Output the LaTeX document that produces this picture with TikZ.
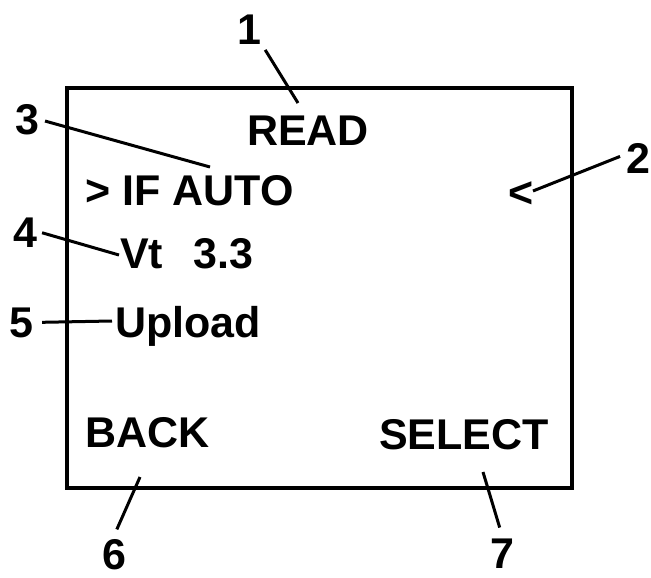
\documentclass[tikz,border=0pt]{standalone}
\usepackage{fontspec}
\setmainfont{Liberation Sans}
\usetikzlibrary{positioning}
\tikzset{
  kijelzo/.style={draw,line width=4.5pt},
  felirat/.style={inner sep=0pt,anchor=base west},
  szam/.style={inner sep=3pt,anchor=base},
  mutato/.style={line width=3pt},
}
\begin{document}
\begin{tikzpicture}[x=1pt,y=-1pt,font=\fontsize{43}{50}\selectfont\bfseries]
  \fill[white] (0,0) rectangle (651,578);
  \useasboundingbox (0,0) rectangle (651,578);
  \draw[kijelzo] (67,88) rectangle (572,488);
  \node[felirat] (read) at (247,145) {READ};
  \node[felirat] (auto) at (85,205) {> IF AUTO};
  \node[felirat] (jel) at (508,207) {<};
  \node[felirat] (vt) at (120,268) {Vt\hspace{30pt}3.3};
  \node[felirat] (upl) at (115,337) {Upload};
  \node[felirat] (back) at (85,447) {BACK};
  \node[felirat] (sel) at (379,449) {SELECT};
  \node[szam] (n1) at (249,45) {1};
  \node[szam] (n2) at (638,173) {2};
  \node[szam] (n3) at (27,135) {3};
  \node[szam] (n4) at (25,247) {4};
  \node[szam] (n5) at (21,337) {5};
  \node[szam] (n6) at (114,569) {6};
  \node[szam] (n7) at (502,568) {7};
  \coordinate (c1) at (298,103);
  \coordinate (c2) at (533,191);
  \coordinate (c3) at (210,167);
  \coordinate (c4) at (119,255);
  \coordinate (c5) at (112,321);
  \coordinate (c6) at (140,477);
  \coordinate (c7) at (483,472);
  \draw[mutato,shorten <=2pt] (n1.south east) -- (c1);
  \draw[mutato,shorten <=3pt] (n2.170) -- (c2);
  \draw[mutato,shorten <=3pt] (n3.east) -- (c3);
  \draw[mutato,shorten <=2pt] (n4.east) -- (c4);
  \draw[mutato,shorten <=6pt] (n5.east) -- (c5);
  \draw[mutato,shorten <=7pt] (n6.north) -- (c6);
  \draw[mutato,shorten <=8pt] (n7.north) -- (c7);
\end{tikzpicture}
\end{document}
